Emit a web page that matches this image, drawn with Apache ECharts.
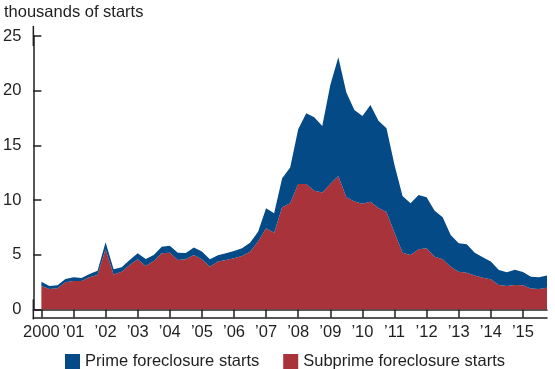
<!DOCTYPE html>
<html>
<head>
<meta charset="utf-8">
<script src="https://cdn.jsdelivr.net/npm/echarts@6/dist/echarts.min.js"></script>
<style>
html,body{margin:0;padding:0;background:#fff;}
#chart{width:555px;height:369px;}
</style>
</head>
<body>
<div id="chart"></div>
<script>
// Year tick labels (one tick per year, at Q1)
var yearLabels = ['2000','\u201901','\u201902','\u201903','\u201904','\u201905','\u201906','\u201907','\u201908','\u201909','\u201910','\u201911','\u201912','\u201913','\u201914','\u201915'];

// Quarterly values, 2000Q1 - 2015Q4 (thousands of starts)
var subprime = [
  2.14, 1.87, 1.93, 2.48, 2.60, 2.60, 2.93, 3.15,
  5.50, 3.20, 3.45, 4.06, 4.58, 3.97, 4.43, 5.13,
  5.17, 4.52, 4.58, 4.98, 4.58, 3.91, 4.37, 4.52,
  4.67, 4.89, 5.28, 6.20, 7.42, 7.02, 9.34, 9.70,
  11.47, 11.47, 10.86, 10.68, 11.47, 12.20, 10.26, 9.86,
  9.67, 9.85, 9.28, 8.90, 7.00, 5.19, 4.98, 5.50,
  5.59, 4.82, 4.58, 3.91, 3.45, 3.36, 3.09, 2.90,
  2.75, 2.23, 2.14, 2.23, 2.20, 1.90, 1.87, 1.99
];
var prime = [
  0.39, 0.27, 0.27, 0.30, 0.33, 0.27, 0.31, 0.39,
  0.64, 0.47, 0.40, 0.46, 0.55, 0.64, 0.55, 0.61,
  0.66, 0.67, 0.58, 0.67, 0.72, 0.67, 0.58, 0.61,
  0.67, 0.70, 0.82, 0.91, 1.83, 1.77, 2.66, 3.27,
  5.01, 6.47, 6.71, 6.10, 9.06, 10.86, 9.57, 8.38,
  8.02, 8.85, 7.97, 7.67, 6.20, 5.18, 4.72, 4.97,
  4.67, 4.21, 3.85, 2.90, 2.60, 2.60, 2.10, 1.87,
  1.62, 1.37, 1.25, 1.40, 1.22, 1.09, 1.06, 1.10
];

// categories: a blank lead-in slot (axis origin), then each quarter
var categories = [''];
var catYear = [null];
for (var y = 0; y < yearLabels.length; y++) {
  for (var q = 0; q < 4; q++) {
    categories.push(yearLabels[y] + ' Q' + (q + 1));
    catYear.push(q === 0 ? yearLabels[y] : null);
  }
}
var subData = [null].concat(subprime);
var primeData = [null].concat(prime);

var ink = '#1f1f1f';
var font = 'Liberation Sans, Arial, Helvetica, sans-serif';
var fs = 16.5;
var isYearStart = function (idx) { return catYear[idx] !== null && catYear[idx] !== undefined; };

var chart = echarts.init(document.getElementById('chart'), null, {renderer: 'canvas'});
chart.setOption({
  animation: false,
  backgroundColor: '#ffffff',
  title: {
    text: 'thousands of starts',
    left: -1, top: -1,
    textStyle: {fontSize: fs, fontWeight: 'normal', color: ink, fontFamily: font}
  },
  legend: {
    data: ['Prime foreclosure starts', 'Subprime foreclosure starts'],
    left: 60, top: 348,
    itemWidth: 15, itemHeight: 15, itemGap: 24,
    icon: 'rect',
    textStyle: {fontSize: fs, color: ink, fontFamily: font}
  },
  grid: {left: 30, right: 8, top: 36, bottom: 59.6, containLabel: false},
  xAxis: [{
    type: 'category',
    data: categories,
    boundaryGap: false,
    axisLine: {show: true, onZero: false, lineStyle: {color: ink, width: 1.5}},
    axisTick: {show: true, inside: false, length: 8, lineStyle: {color: ink, width: 1.5},
      interval: function (idx) { return isYearStart(idx); }},
    axisLabel: {show: true, margin: 15, fontSize: fs, color: ink, fontFamily: font,
      interval: function (idx) { return isYearStart(idx); },
      formatter: function (v, idx) { return catYear[idx] || ''; }},
    splitLine: {show: false}
  }, {
    type: 'category',
    data: categories,
    boundaryGap: false,
    position: 'bottom',
    offset: 8,
    axisLine: {show: true, onZero: false, lineStyle: {color: ink, width: 1.5}},
    axisTick: {show: false},
    axisLabel: {show: false},
    splitLine: {show: false}
  }],
  yAxis: {
    type: 'value',
    min: 0, max: 25, interval: 5,
    axisLine: {show: true, lineStyle: {color: ink, width: 1.5},
      symbol: ['rect', 'rect'], symbolSize: [1.5, 20]},
    axisTick: {show: true, inside: true, length: 8, lineStyle: {color: ink, width: 1.5}},
    axisLabel: {margin: 12, fontSize: fs, color: ink, fontFamily: font},
    splitLine: {show: false}
  },
  series: [{
    name: 'Subprime foreclosure starts',
    type: 'line',
    stack: 'total',
    data: subData,
    showSymbol: false,
    symbol: 'none',
    lineStyle: {width: 0},
    itemStyle: {color: '#a8333a'},
    areaStyle: {color: '#a8333a', opacity: 1}
  }, {
    name: 'Prime foreclosure starts',
    type: 'line',
    stack: 'total',
    data: primeData,
    showSymbol: false,
    symbol: 'none',
    lineStyle: {width: 0},
    itemStyle: {color: '#034a87'},
    areaStyle: {color: '#034a87', opacity: 1}
  }]
});
</script>
</body>
</html>
